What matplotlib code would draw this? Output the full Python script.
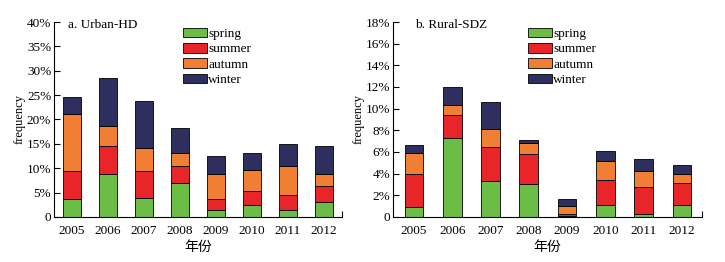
import matplotlib.pyplot as plt
import numpy as np

years = ["2005", "2006", "2007", "2008", "2009", "2010", "2011", "2012"]
seasons = ["spring", "summer", "autumn", "winter"]
colors = ["#6cbd45", "#e8262a", "#f07f34", "#2e2f5e"]

# segment heights in % (a. Urban-HD)
urban_spring = [3.6, 8.8, 3.9, 6.9, 1.4, 2.5, 1.4, 3.0]
urban_summer = [5.9, 5.7, 5.5, 3.5, 2.2, 2.8, 3.2, 3.3]
urban_autumn = [11.6, 4.1, 4.7, 2.8, 5.2, 4.3, 5.9, 2.5]
urban_winter = [3.5, 10.0, 9.6, 5.0, 3.7, 3.6, 4.4, 5.7]

# segment heights in % (b. Rural-SDZ)
rural_spring = [0.95, 7.25, 3.3, 3.0, 0.05, 1.1, 0.25, 1.1]
rural_summer = [3.0, 2.2, 3.15, 2.8, 0.2, 2.3, 2.55, 2.0]
rural_autumn = [1.95, 0.85, 1.65, 1.05, 0.8, 1.75, 1.4, 0.85]
rural_winter = [0.7, 1.7, 2.5, 0.3, 0.65, 0.95, 1.15, 0.85]

plt.rcParams['font.family'] = ['Liberation Serif', 'Noto Sans CJK SC']
plt.rcParams['font.size'] = 9.5

fig = plt.figure(figsize=(7.25, 2.62), dpi=100)
ax1 = fig.add_axes([0.0745, 0.172, 0.397, 0.744])
ax2 = fig.add_axes([0.542, 0.172, 0.426, 0.744])


def pct(v, pos):
    return "0" if v == 0 else "%d%%" % v


def draw(ax, series, width, xlim, ymax, ystep, title, title_x, leg_x):
    x = np.arange(len(years))
    bottom = np.zeros(len(years))
    for vals, name, c in zip(series, seasons, colors):
        ax.bar(x, vals, width, bottom=bottom, color=c, edgecolor="black",
               linewidth=0.6, label=name)
        bottom += np.array(vals)
    ax.set_xlim(*xlim)
    ax.set_ylim(0, ymax)
    ax.set_yticks(np.arange(0, ymax + 0.01, ystep))
    ax.yaxis.set_major_formatter(plt.FuncFormatter(pct))
    ax.tick_params(axis="y", direction="in", length=4, width=0.8, pad=2)
    ax.set_xticks(x)
    ax.set_xticklabels(years)
    ax.tick_params(axis="x", length=0, pad=6)
    ax.set_xticks([xlim[1]], minor=True)
    ax.tick_params(axis="x", which="minor", direction="in", length=4, width=0.8)
    for s in ["top", "right"]:
        ax.spines[s].set_visible(False)
    for s in ["left", "bottom"]:
        ax.spines[s].set_linewidth(0.8)
    ax.set_ylabel("frequency", labelpad=1, fontsize=9)
    ax.set_xlabel("年份", labelpad=3, fontsize=10)
    ax.text(title_x, 0.985, title, transform=ax.transAxes, va="center", ha="left")
    ax.legend(loc="upper left", bbox_to_anchor=(leg_x, 0.985), frameon=False,
              fontsize=9.5, handlelength=1.8, handleheight=0.75, labelspacing=0.22,
              handletextpad=0.1, borderaxespad=0, borderpad=0.2)


draw(ax1, [urban_spring, urban_summer, urban_autumn, urban_winter], 0.5,
     (-0.5, 7.5), 40, 5, "a. Urban-HD", 0.049, 0.44)
draw(ax2, [rural_spring, rural_summer, rural_autumn, rural_winter], 0.49,
     (-0.55, 7.52), 18, 2, "b. Rural-SDZ", 0.071, 0.43)

fig.savefig("out.png", dpi=100)
